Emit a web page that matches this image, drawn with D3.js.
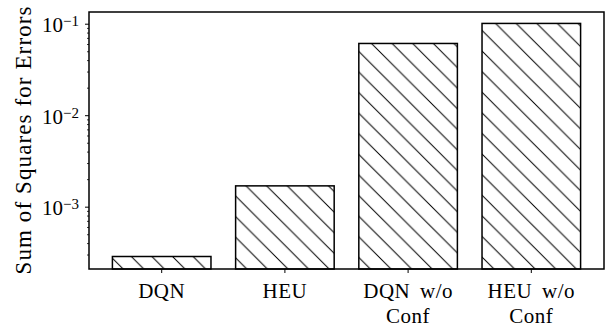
<!DOCTYPE html>
<html>
<head>
<meta charset="utf-8">
<script src="https://cdn.jsdelivr.net/npm/d3@7"></script>
<style>
  body { margin: 0; background: #fff; }
  text { font-family: "Liberation Serif", "DejaVu Serif", serif; fill: #000; }
</style>
</head>
<body>
<div id="chart"></div>
<script>
const width = 610;
const height = 329;
const margin = {top: 12, right: 6, bottom: 60, left: 89};

// data
const categories = ["DQN", "HEU", "DQN w/o Conf", "HEU w/o Conf"];
const labelLines = [["DQN"], ["HEU"], ["DQN w/o", "Conf"], ["HEU w/o", "Conf"]];
const sse = [2.89e-4, 1.71e-3, 0.0616, 0.102];
const yMajor = [1e-3, 1e-2, 1e-1];
const yMajorExp = ["−3", "−2", "−1"];
const yLabel = "Sum of Squares for Errors";

const svg = d3.select("#chart")
    .append("svg")
    .attr("width", width)
    .attr("height", height);

// hatch '\\'
const hs = 20.6;
svg.append("defs").append("pattern")
    .attr("id", "hatch")
    .attr("patternUnits", "userSpaceOnUse")
    .attr("width", hs)
    .attr("height", hs)
    .attr("x", 19)
    .append("path")
    .attr("d", `M-2,-2L${hs + 2},${hs + 2}M${hs - 2},-2L${hs + 2},2M-2,${hs - 2}L2,${hs + 2}`)
    .attr("stroke", "#000")
    .attr("stroke-width", 1)
    .attr("fill", "none");

const x = d3.scaleBand()
    .domain(categories)
    .range([margin.left, width - margin.right])
    .paddingInner(0.2)
    .paddingOuter(0.19);

const y = d3.scaleLog()
    .domain([2.11e-4, 0.136])
    .range([height - margin.bottom, margin.top]);

// bars
svg.append("g")
    .selectAll("rect")
    .data(sse)
    .join("rect")
    .attr("x", (d, i) => x(categories[i]))
    .attr("width", x.bandwidth())
    .attr("y", d => y(d))
    .attr("height", d => y.range()[0] - y(d))
    .attr("fill", "url(#hatch)")
    .attr("stroke", "#000")
    .attr("stroke-width", 1.5);

// minor ticks
const minor = [];
for (let e = -4; e <= -1; e++) {
  for (let m = 2; m <= 9; m++) {
    const v = m * Math.pow(10, e);
    if (v >= y.domain()[0] && v <= y.domain()[1]) minor.push(v);
  }
}
svg.append("g")
    .selectAll("line")
    .data(minor)
    .join("line")
    .attr("x1", margin.left - 2)
    .attr("x2", margin.left)
    .attr("y1", d => y(d))
    .attr("y2", d => y(d))
    .attr("stroke", "#000")
    .attr("stroke-width", 0.8);

// major y ticks
const yt = svg.append("g")
    .selectAll("g")
    .data(yMajor)
    .join("g")
    .attr("transform", d => `translate(0,${y(d)})`);
yt.append("line")
    .attr("x1", margin.left - 4)
    .attr("x2", margin.left)
    .attr("stroke", "#000")
    .attr("stroke-width", 1);
const lab = yt.append("text")
    .attr("x", margin.left - 10)
    .attr("y", 8)
    .attr("text-anchor", "end")
    .style("font-size", "21px");
lab.append("tspan").text("10");
lab.append("tspan")
    .attr("dy", -6)
    .style("font-size", "15px")
    .text((d, i) => yMajorExp[i]);

// x ticks
const xt = svg.append("g")
    .selectAll("g")
    .data(categories)
    .join("g")
    .attr("transform", d => `translate(${x(d) + x.bandwidth() / 2},${height - margin.bottom})`);
xt.append("line")
    .attr("y2", 4)
    .attr("stroke", "#000")
    .attr("stroke-width", 1);
xt.append("text")
    .attr("text-anchor", "middle")
    .style("font-size", "21px")
    .style("letter-spacing", "0.5px")
    .style("word-spacing", "4px")
    .selectAll("tspan")
    .data((d, i) => labelLines[i])
    .join("tspan")
    .attr("x", 0)
    .attr("y", (d, j) => 28.5 + j * 25.5)
    .text(d => d);

// frame
svg.append("rect")
    .attr("x", margin.left)
    .attr("y", margin.top)
    .attr("width", width - margin.left - margin.right)
    .attr("height", height - margin.top - margin.bottom)
    .attr("fill", "none")
    .attr("stroke", "#000")
    .attr("stroke-width", 1.5);

// y label
svg.append("text")
    .attr("transform", `translate(31,${(margin.top + height - margin.bottom) / 2}) rotate(-90)`)
    .attr("text-anchor", "middle")
    .attr("textLength", 268)
    .attr("lengthAdjust", "spacing")
    .style("font-size", "23px")
    .text(yLabel);
</script>
</body>
</html>
